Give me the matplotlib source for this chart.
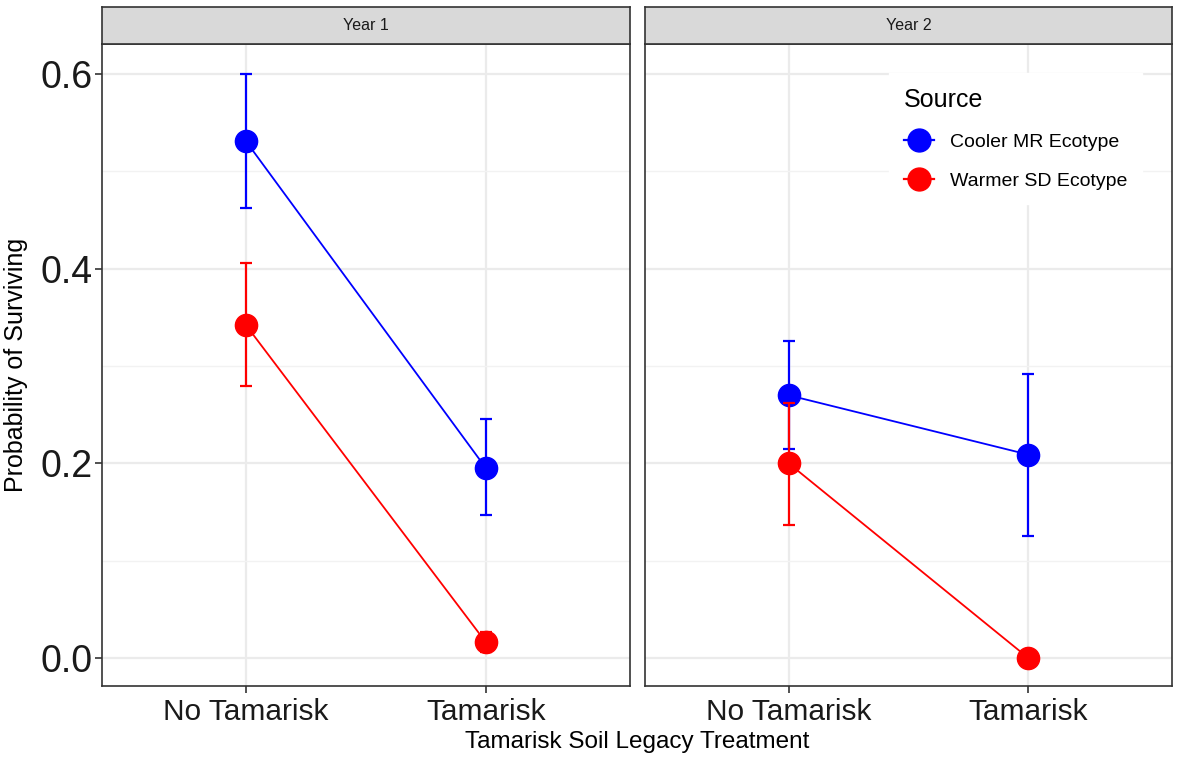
import matplotlib.pyplot as plt
from matplotlib.lines import Line2D

plt.rcParams['font.family'] = ['Liberation Sans', 'DejaVu Sans']

treatments = ['No Tamarisk', 'Tamarisk']
years = ['Year 1', 'Year 2']
sources = ['Cooler MR Ecotype', 'Warmer SD Ecotype']
colors = ['#0000FF', '#FF0000']

# mean, lower, upper per year -> treatment
cooler_mean = [[0.531, 0.195], [0.270, 0.209]]
cooler_low = [[0.462, 0.147], [0.215, 0.125]]
cooler_high = [[0.600, 0.246], [0.326, 0.292]]
warmer_mean = [[0.342, 0.016], [0.200, 0.000]]
warmer_low = [[0.280, 0.006], [0.137, 0.000]]
warmer_high = [[0.406, 0.027], [0.262, 0.000]]

W, H = 1182, 763
fig = plt.figure(figsize=(W / 100, H / 100), dpi=100)


def frac(x0, y0, x1, y1):
    return [x0 / W, 1 - y1 / H, (x1 - x0) / W, (y1 - y0) / H]


panels = [(102, 630), (645, 1172)]
axes = []
for i, (x0, x1) in enumerate(panels):
    ax = fig.add_axes(frac(x0, 44, x1, 686))
    axes.append(ax)
    ax.set_xlim(0.4, 2.6)
    ax.set_ylim(-0.0288, 0.631)
    ax.set_xticks([1, 2])
    ax.set_xticklabels(treatments, fontsize=21.5)
    ax.set_yticks([0.0, 0.2, 0.4, 0.6])
    ax.set_yticks([0.1, 0.3, 0.5], minor=True)
    ax.grid(True, which='major', color='#EBEBEB', lw=1.6, zorder=0)
    ax.grid(True, which='minor', axis='y', color='#F2F2F2', lw=1.0, zorder=0)
    ax.set_axisbelow(True)
    for sp in ax.spines.values():
        sp.set_color('#333333')
        sp.set_linewidth(1.2)
    ax.tick_params(axis='both', which='major', length=5, width=1.2, color='#333333',
                   labelcolor='#1A1A1A', pad=2)
    ax.tick_params(axis='x', which='major', pad=4)
    ax.tick_params(axis='y', which='minor', length=0)
    if i == 0:
        ax.set_yticklabels(['0.0', '0.2', '0.4', '0.6'], fontsize=27)
    else:
        ax.tick_params(axis='y', which='major', length=0, labelleft=False)

    xs = [1, 2]
    groups = [(cooler_mean, cooler_low, cooler_high), (warmer_mean, warmer_low, warmer_high)]
    for k, (m, lo, hi) in enumerate(groups):
        mean = m[i]
        err = [[mean[j] - lo[i][j] for j in range(2)], [hi[i][j] - mean[j] for j in range(2)]]
        ax.errorbar(xs, mean, yerr=err, fmt='none', ecolor=colors[k], elinewidth=1.6,
                    capsize=4, capthick=1.6, zorder=3 + k)
        ax.plot(xs, mean, color=colors[k], lw=1.3, zorder=3 + k)
        ax.plot(xs, mean, 'o', color=colors[k], ms=16, zorder=3 + k)

    # strip
    sx = fig.add_axes(frac(x0, 7, x1, 44))
    sx.set_xticks([])
    sx.set_yticks([])
    sx.set_facecolor('#D9D9D9')
    for sp in sx.spines.values():
        sp.set_color('#333333')
        sp.set_linewidth(1.2)
    sx.text(0.5, 0.5, years[i], ha='center', va='center', fontsize=11.5, color='#1A1A1A',
            transform=sx.transAxes)

fig.text(637 / W, 1 - 742 / H, 'Tamarisk Soil Legacy Treatment', ha='center', va='center',
         fontsize=17.5)
fig.text(16 / W, 1 - 365 / H, 'Probability of Surviving', ha='center', va='center',
         rotation=90, fontsize=18)

handles = [Line2D([], [], color=c, marker='o', ms=16.5, lw=1.6) for c in colors]
leg = axes[1].legend(handles, sources, title='Source', loc='upper left',
                     bbox_to_anchor=((889 - 645) / 527, (686 - 73) / 642),
                     frameon=True, fancybox=False, edgecolor='white', facecolor='white',
                     framealpha=1, fontsize=14, title_fontsize=18, handlelength=1.55,
                     handletextpad=0.85, labelspacing=1.1, borderpad=0.75, borderaxespad=0)
leg._legend_box.align = 'left'

fig.savefig('out.png', dpi=100, facecolor='white')
